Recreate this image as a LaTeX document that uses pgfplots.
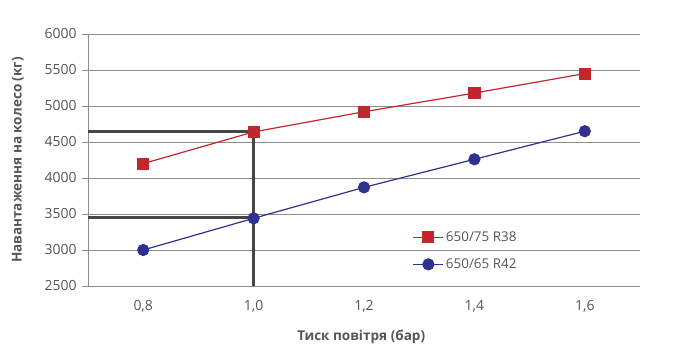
\documentclass[border=0pt]{standalone}
\usepackage{pgfplots}
\pgfplotsset{compat=1.18}
\usepackage{fontspec}
\setmainfont{Open Sans}
\definecolor{txt}{HTML}{555555}
\definecolor{grd}{HTML}{8C8C8C}
\definecolor{myred}{HTML}{C1272D}
\definecolor{myblue}{HTML}{2E3192}
\definecolor{dark}{HTML}{454545}
\begin{document}
\begin{tikzpicture}[x=1bp,y=1bp]
\useasboundingbox (-88bp,-74bp) rectangle (591bp,286bp);
\begin{axis}[
  anchor=south west, at={(0,0)},
  scale only axis, width=552bp, height=252bp,
  xmin=0.7, xmax=1.7, ymin=2500, ymax=6000,
  xtick={0.8,1.0,1.2,1.4,1.6},
  ytick={2500,3000,...,6000},
  axis x line*=bottom, axis y line*=left,
  axis line style={grd, line width=0.9bp, -},
  x axis line style={draw=none},
  ymajorgrids, grid style={grd, line width=0.9bp},
  major y tick style={grd, line width=0.9bp},
  ytick align=outside, major tick length=6bp,
  xtick style={draw=none},
  tick label style={font=\fontsize{14}{16}\selectfont, text=txt},
  /pgf/number format/assume math mode=true,
  xticklabel style={/pgf/number format/.cd, use comma, fixed, fixed zerofill, precision=1},
  yticklabel style={/pgf/number format/.cd, fixed, 1000 sep={}},
  xticklabel shift=11bp, yticklabel shift=2bp,
  xlabel={Тиск повітря (бар)},
  ylabel={Навантаження на колесо (кг)},
  label style={font=\bfseries\fontsize{13.6}{15}\selectfont, text=txt},
  xlabel style={at={(axis description cs:0.495,-0.202)}, anchor=center},
  ylabel style={at={(axis description cs:-0.127,0.5)}, anchor=center, rotate=0},
  clip=false,
  legend style={at={(axis description cs:0.588,0.225)}, anchor=north west,
    draw=none, fill=none, font=\fontsize{13.5}{16}\selectfont, text=txt,
    row sep=12bp, inner sep=0pt},
  legend cell align=left,
  legend image code/.code={\draw[mark repeat=2,mark phase=2] plot coordinates {(0bp,0bp)(15bp,0bp)(30bp,0bp)};},
]
\addplot[dark, line width=3bp, forget plot] coordinates {(0.7,4650) (1.0,4650) (1.0,2500)};
\addplot[dark, line width=3bp, forget plot] coordinates {(0.7,3450) (1.0,3450)};
\addplot[myred, line width=1.2bp, mark=square*, mark size=5.5bp, mark options={fill=myred, draw=myred}]
  coordinates {(0.8,4200) (1.0,4640) (1.2,4920) (1.4,5180) (1.6,5450)};
\addlegendentry{650/75 R38}
\addplot[myblue, line width=1.2bp, mark=*, mark size=5.5bp, mark options={fill=myblue, draw=myblue}]
  coordinates {(0.8,3000) (1.0,3440) (1.2,3870) (1.4,4260) (1.6,4650)};
\addlegendentry{650/65 R42}
\draw[grd, line width=0.9bp] (axis cs:0.7,2500) -- (axis cs:1.7,2500);
\end{axis}
\end{tikzpicture}
\end{document}
